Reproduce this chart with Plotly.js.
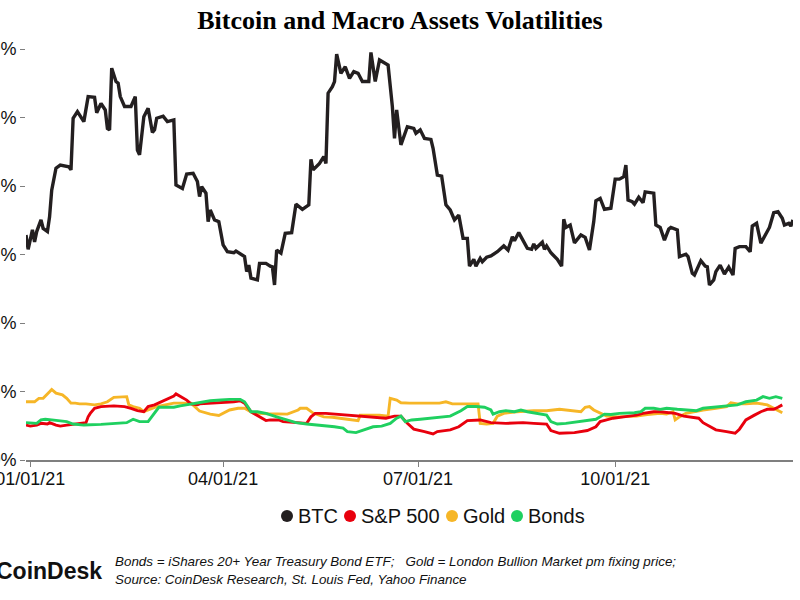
<!DOCTYPE html>
<html>
<head>
<meta charset="utf-8">
<script src="https://cdn.plot.ly/plotly-3.0.1.min.js"></script>
<style>
  html, body { margin: 0; padding: 0; width: 800px; height: 600px; overflow: hidden; background: #fff; }
  #chart { position: absolute; left: -60px; top: 0; width: 860px; height: 600px; }
</style>
</head>
<body>
<div id="chart"></div>
<script>
// ---- Data (days since 2021-01-01, annualised volatility in %) ----
const btcDay = [-2,-1,1,2,3,5,6,8,9,10,12,14,18,19,20,22,25,27,30,31,33,35,36,37,38,40,41,42,44,47,49,50,51,53,55,57,58,59,62,64,67,68,71,73,76,78,79,80,82,83,84,86,88,90,92,95,96,100,101,102,103,106,107,110,112,113,114,115,117,119,122,124,127,130,131,132,135,137,138,139,141,142,143,145,147,149,151,153,155,158,159,161,163,167,169,170,171,173,176,179,180,182,184,187,188,190,192,194,196,198,200,202,204,205,207,208,210,211,213,215,218,221,223,225,226,228,232,234,235,236,239,240,241,243,246,248,249,250,252,254,257,259,261,263,264,266,268,271,273,275,277,278,279,281,282,284,286,287,291,292,294,296,298,299,302,303,306,307,309,310,313,315,316,317,319,320,322,324,326,328,329,331,334,336,337,339,341,343,345,347,349,351,352,354,355,356];
const btcVol = [65.7,61.5,67.2,63.7,66.7,70.1,67.6,66.7,71.0,78.8,85.2,86.1,85.6,84.7,99.8,101.7,98.8,106.1,105.9,101.4,104.1,102.2,96.8,96.4,114.4,110.5,110.0,106.1,103.2,103.2,106.1,90.5,89.1,100.2,102.7,95.6,96.4,99.8,100.4,98.8,99.3,80.3,79.3,83.5,83.7,81.3,76.9,79.8,77.9,69.6,73.0,70.1,69.6,62.8,60.8,60.5,61.0,59.4,55.0,56.9,53.1,52.6,57.4,57.4,56.6,56.4,51.1,61.3,60.4,66.2,66.4,74.7,73.2,74.5,87.8,84.7,86.6,88.6,86.6,107.1,109.0,110.5,118.5,112.9,114.8,111.4,113.4,112.9,110.5,110.5,119.0,110.5,116.8,115.3,103.2,93.9,102.2,92.0,97.3,96.8,95.4,96.4,93.9,93.6,91.0,83.2,82.9,74.5,73.0,70.1,71.5,64.7,64.7,56.6,58.6,56.6,58.9,57.9,59.2,59.6,60.8,62.5,61.3,65.2,64.0,66.4,61.8,61.5,63.1,61.8,63.6,61.5,62.5,60.5,58.6,56.6,70.3,67.9,68.6,63.4,65.7,65.0,61.3,69.6,75.7,76.4,73.2,73.5,82.0,82.0,82.7,86.1,75.9,75.4,74.7,76.7,75.1,78.3,77.9,68.6,67.9,64.2,67.4,67.9,67.2,59.4,60.1,59.4,54.5,54.0,58.2,56.6,56.4,51.1,52.6,55.0,56.9,54.3,56.3,54.0,61.8,62.3,62.3,60.8,68.3,69.1,63.3,65.4,67.9,72.2,72.5,70.6,68.6,69.1,68.3,70.1];

const spDay = [-2,0,3,5,8,9,12,14,17,22,26,27,28,30,33,39,44,47,50,53,55,58,59,61,64,67,68,70,73,75,78,79,84,89,95,98,100,103,107,110,112,116,118,124,129,131,133,138,145,152,160,166,170,173,176,179,184,188,190,196,200,204,210,215,222,230,235,241,243,247,254,260,264,266,269,272,277,283,286,291,294,297,301,305,309,312,314,317,320,325,329,331,334,338,341,344,347,349,351];
const spVol = [10.2,9.9,10.2,10.7,10.5,10.9,10.2,9.9,10.2,10.7,10.9,12.6,13.6,15.1,15.6,15.8,15.6,15.1,14.4,14.1,15.6,16.1,16.4,17.0,17.7,18.7,19.3,18.5,17.5,16.4,16.1,16.4,16.6,16.7,17.0,17.3,16.6,14.1,12.6,11.5,11.7,11.7,11.2,10.9,10.7,12.6,13.6,13.6,13.3,12.8,12.5,12.2,12.8,12.8,10.7,9.0,8.3,7.6,8.3,8.8,9.7,11.5,11.7,10.9,10.7,10.9,10.7,10.5,8.6,7.8,8.0,8.6,9.7,11.2,11.7,12.2,12.6,13.1,13.6,14.1,14.1,13.8,13.6,12.8,12.5,12.2,10.9,9.9,8.8,8.3,7.8,9.0,11.7,13.1,14.1,14.8,14.8,15.4,16.1];

const goldDay = [-2,2,4,6,9,10,12,13,15,17,19,21,23,26,30,33,36,39,42,45,46,48,51,53,59,67,75,77,79,84,88,93,97,100,104,111,120,125,126,129,132,137,141,148,153,154,157,163,167,168,171,173,177,182,187,191,194,197,200,204,209,210,213,216,218,221,227,235,241,247,254,257,259,261,263,266,269,274,278,283,288,294,297,300,301,303,306,310,314,320,325,327,330,334,339,344,347,351];
const goldVol = [17.0,17.0,18.0,18.0,19.9,20.6,19.5,19.3,19.0,18.0,16.6,16.6,16.4,16.4,16.1,16.4,17.0,18.3,18.5,18.5,16.1,15.6,15.1,14.1,15.6,16.6,16.6,15.5,14.3,13.4,13.0,14.6,15.1,15.1,13.7,13.5,13.4,14.6,15.1,15.1,13.7,12.6,12.5,11.9,11.5,13.1,13.1,13.1,12.8,18.0,17.5,16.7,16.6,16.6,16.7,16.6,17.0,16.4,16.4,16.4,16.4,10.7,10.5,10.7,12.8,13.6,14.1,14.4,14.4,14.8,14.4,14.1,15.4,15.6,14.6,13.6,12.8,12.6,12.6,12.8,13.3,13.6,13.4,14.1,11.7,12.6,13.6,14.1,14.6,15.1,15.6,16.7,16.4,16.4,16.6,16.1,15.1,13.8];

const bondDay = [-2,3,5,7,10,13,17,20,25,33,39,45,48,51,55,58,60,64,67,70,75,79,84,89,93,98,100,102,103,106,110,115,120,124,129,135,142,146,148,152,156,160,164,168,171,173,175,178,182,188,193,196,201,204,208,212,215,216,219,222,226,229,232,238,241,243,246,250,255,261,264,266,268,271,275,282,285,287,291,294,297,302,306,311,314,319,325,330,334,339,342,345,348,351];
const bondVol = [10.9,10.7,11.7,11.9,11.7,11.5,11.2,10.5,10.2,10.4,10.7,10.9,11.9,11.2,11.2,13.6,15.4,15.4,15.4,15.8,16.4,16.7,17.3,17.5,17.7,17.7,17.0,15.1,14.1,14.1,13.6,12.6,11.7,10.9,10.5,10.2,9.7,9.3,8.3,8.0,8.8,9.7,9.9,10.7,12.2,12.8,11.2,11.7,11.9,12.2,12.5,12.8,14.4,15.6,15.6,15.4,14.6,13.4,14.1,14.4,14.1,14.6,14.1,13.4,13.1,11.2,10.5,10.7,11.2,11.7,11.9,12.6,13.4,13.3,13.6,13.8,14.1,15.1,15.1,14.8,15.1,14.8,14.6,14.4,15.1,15.4,15.6,16.1,17.0,17.5,18.5,18.0,18.5,18.0];

const seriesNames = ['BTC', 'S&P 500', 'Gold', 'Bonds'];
const seriesColors = ['#231f20', '#e8000d', '#f6b627', '#1fd060'];
const tickDates = ['2021-01-01', '2021-04-01', '2021-07-01', '2021-10-01'];
const yTicks = [0, 20, 40, 60, 80, 100, 120];
const yTickText = ['0%', '20%', '40%', '60%', '80%', '100%', '120%'];

const titleText = 'Bitcoin and Macro Assets Volatilities';
const noteLine1 = 'Bonds = iShares 20+ Year Treasury Bond ETF;   Gold = London Bullion Market pm fixing price;';
const noteLine2 = 'Source: CoinDesk Research, St. Louis Fed, Yahoo Finance';

// ---- helpers ----
function toDate(d) {
  const t = new Date(Date.UTC(2021, 0, 1 + d));
  return t.toISOString().slice(0, 10);
}

function lineTrace(days, vals, idx, width) {
  return {
    type: 'scatter', mode: 'lines',
    x: days.map(toDate), y: vals,
    name: seriesNames[idx],
    line: { color: seriesColors[idx], width: width, shape: 'linear' },
    showlegend: false, hoverinfo: 'skip'
  };
}

const traces = [
  lineTrace(goldDay, goldVol, 2, 2.9),
  lineTrace(spDay, spVol, 1, 2.9),
  lineTrace(bondDay, bondVol, 3, 2.9),
  lineTrace(btcDay, btcVol, 0, 3.4)
];

// layout geometry (plot area in window px: x 25.7..793, y 49..460; div shifted by -60px)
const mL = 86, mR = 7, mT = 49, mB = 140;
const plotW = 860 - mL - mR, plotH = 600 - mT - mB;
function px(wx) { return (wx + 60 - mL) / plotW; }
function py(wy) { return (600 - mB - wy) / plotH; }

// custom legend (marker dots + labels)
const legendDotX = [287, 350, 452, 517];
const legendY = 516;
const shapes = [];
const annotations = [];
seriesNames.forEach((n, i) => {
  shapes.push({
    type: 'circle', xref: 'paper', yref: 'paper',
    xsizemode: 'pixel', ysizemode: 'pixel',
    xanchor: px(legendDotX[i]), yanchor: py(legendY),
    x0: -6, x1: 6, y0: -6, y1: 6,
    fillcolor: seriesColors[i], line: { width: 0 }
  });
  annotations.push({
    xref: 'paper', yref: 'paper', x: px(legendDotX[i] + 9), y: py(legendY),
    xanchor: 'left', yanchor: 'middle', showarrow: false,
    text: n, font: { family: 'Liberation Sans, Arial, sans-serif', size: 20, color: '#111' }
  });
});

annotations.push({
  xref: 'paper', yref: 'paper', x: px(104), y: py(571),
  xanchor: 'right', yanchor: 'middle', showarrow: false,
  text: '<b>CoinDesk</b>',
  font: { family: 'Liberation Sans, Arial, sans-serif', size: 23, color: '#111' }
});
annotations.push({
  xref: 'paper', yref: 'paper', x: px(113), y: py(561),
  xanchor: 'left', yanchor: 'middle', showarrow: false,
  text: '<i>' + noteLine1 + '</i>',
  font: { family: 'Liberation Sans Narrow, Liberation Sans, Arial, sans-serif', size: 13.4, color: '#111' }
});
annotations.push({
  xref: 'paper', yref: 'paper', x: px(113), y: py(579),
  xanchor: 'left', yanchor: 'middle', showarrow: false,
  text: '<i>' + noteLine2 + '</i>',
  font: { family: 'Liberation Sans Narrow, Liberation Sans, Arial, sans-serif', size: 13.4, color: '#111' }
});

const layout = {
  width: 860, height: 600,
  margin: { l: mL, r: mR, t: mT, b: mB, pad: 0 },
  paper_bgcolor: '#ffffff', plot_bgcolor: '#ffffff',
  showlegend: false,
  title: {
    text: '<b>' + titleText + '</b>',
    font: { family: 'Liberation Serif, Times New Roman, serif', size: 26, color: '#000' },
    xref: 'container', yref: 'container',
    x: 460 / 860, xanchor: 'center', y: 1 - 20 / 600, yanchor: 'middle'
  },
  xaxis: {
    type: 'date',
    range: [toDate(btcDay[0]), toDate(btcDay[btcDay.length - 1])],
    tickvals: tickDates, tickformat: '%m/%d/%y',
    showgrid: false, zeroline: false,
    showline: true, linecolor: '#7f7f7f', linewidth: 2,
    ticks: 'outside', ticklen: 5, tickwidth: 1, tickcolor: '#7f7f7f',
    ticklabelstandoff: -4,
    tickfont: { family: 'Liberation Sans, Arial, sans-serif', size: 18, color: '#111' },
    automargin: false
  },
  yaxis: {
    range: [0, 120],
    tickmode: 'array', tickvals: yTicks, ticktext: yTickText,
    showgrid: false, zeroline: false, showline: false,
    ticks: 'outside', ticklen: 5, tickwidth: 1, tickcolor: '#7f7f7f',
    tickfont: { family: 'Liberation Sans, Arial, sans-serif', size: 18, color: '#111' },
    automargin: false
  },
  shapes: shapes,
  annotations: annotations
};

Plotly.newPlot('chart', traces, layout, { displayModeBar: false, staticPlot: true });
</script>
</body>
</html>
